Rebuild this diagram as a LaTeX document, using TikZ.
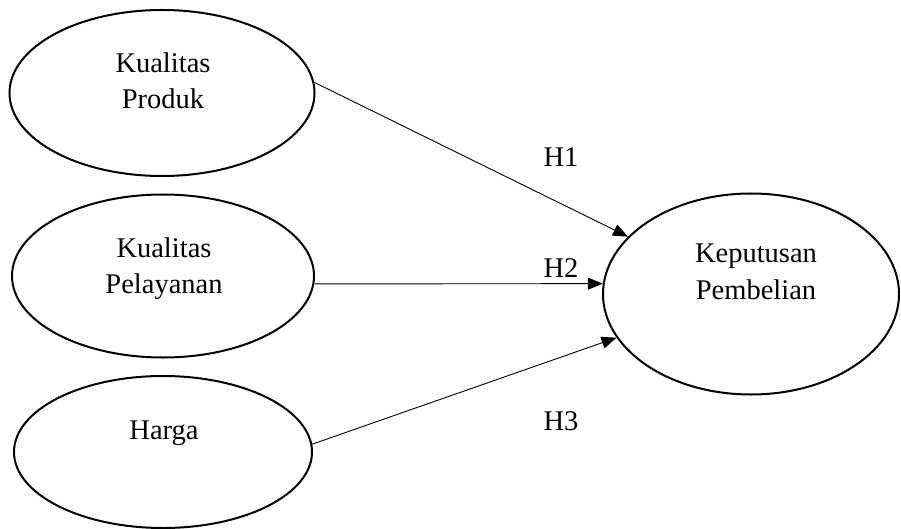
\documentclass[tikz,border=0pt]{standalone}
\usepackage{fontspec}
\setmainfont{Liberation Serif}
\usetikzlibrary{shapes.geometric,arrows.meta}
\begin{document}
\begin{tikzpicture}[x=1pt,y=-1pt,
  var/.style={draw=black, line width=2pt, ellipse, inner sep=0pt},
  lbl/.style={anchor=base, inner sep=0pt, font=\fontsize{28.5}{36}\selectfont},
  rel/.style={line width=0.9pt, -{Triangle[length=15pt,width=12pt]}}]
\useasboundingbox (0,0) rectangle (901,529);
\node[var, minimum width=305pt, minimum height=166pt] (kp) at (162,93) {};
\node[var, minimum width=302pt, minimum height=163pt] (kpl) at (163,276) {};
\node[var, minimum width=298pt, minimum height=152pt] (hg) at (163,452) {};
\node[var, minimum width=296pt, minimum height=201pt] (kep) at (751,294) {};
\node[lbl] (t1a) at (163,73) {Kualitas};
\node[lbl] (t1b) at (163,109) {Produk};
\node[lbl] (t2a) at (164,257) {Kualitas};
\node[lbl] (t2b) at (164,293) {Pelayanan};
\node[lbl] (t3) at (164,439) {Harga};
\node[lbl] (t4a) at (756,262) {Keputusan};
\node[lbl] (t4b) at (756,299) {Pembelian};
\node[lbl] (h1) at (561,167) {H1};
\node[lbl] (h2) at (561,277) {H2};
\node[lbl] (h3) at (561,430) {H3};
\draw[rel] (kp.4) -- (kep.155);
\draw[rel] (kpl.-3) -- (kep.176);
\draw[rel] (hg.3) -- (kep.198);
\end{tikzpicture}
\end{document}
